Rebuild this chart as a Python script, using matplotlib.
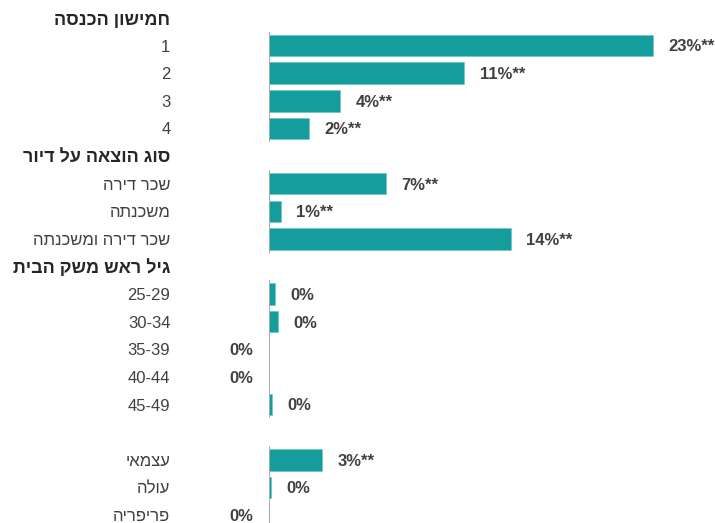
import matplotlib.pyplot as plt

plt.rcParams['font.family'] = ['Liberation Sans', 'DejaVu Sans']

headers = ['חמישון הכנסה', 'סוג הוצאה על דיור', 'גיל ראש משק הבית', '']
categories = [
    ['1', '2', '3', '4'],
    ['שכר דירה', 'משכנתה', 'שכר דירה ומשכנתה'],
    ['25-29', '30-34', '35-39', '40-44', '45-49'],
    ['עצמאי', 'עולה', 'פריפריה'],
]
values = [
    [23.0, 11.7, 4.25, 2.4],
    [7.0, 0.7, 14.5],
    [0.36, 0.54, -0.02, -0.02, 0.2],
    [3.2, 0.14, -0.05],
]
value_labels = [
    ['23%**', '11%**', '4%**', '2%**'],
    ['7%**', '1%**', '14%**'],
    ['0%', '0%', '0%', '0%', '0%'],
    ['3%**', '0%', '0%'],
]


def heb(s):
    # matplotlib has no bidi, so put hebrew in visual order
    if any('\u0590' <= c <= '\u05ff' for c in s):
        return s[::-1]
    return s


fig = plt.figure(figsize=(7.15, 5.23), dpi=100)
ax = fig.add_axes([269 / 715, 0, 446 / 715, 1])

teal = '#159c9c'
txt = '#404040'

ticks = []
ticklabels = []
bold_rows = []
row = 0
for g in range(len(headers)):
    ticks.append(row)
    ticklabels.append(heb(headers[g]))
    bold_rows.append(len(ticks) - 1)
    row += 1
    first = row
    for cat, v, lab in zip(categories[g], values[g], value_labels[g]):
        ax.barh(row, v, height=0.78, color=teal, edgecolor='#6cc4c4', linewidth=0.4)
        if v >= 0:
            ax.annotate(lab, (v, row + 0.05), xytext=(11, 0), textcoords='offset points',
                        ha='left', va='center', fontsize=12, fontweight='bold',
                        color=txt, annotation_clip=False)
        else:
            ax.annotate(lab, (0, row + 0.05), xytext=(-11, 0), textcoords='offset points',
                        ha='right', va='center', fontsize=12, fontweight='bold',
                        color=txt, annotation_clip=False)
        ticks.append(row)
        ticklabels.append(heb(cat))
        row += 1
    ax.vlines(0, first - 0.5, row - 0.5, color='#a6a6a6', linewidth=1.3, zorder=3)

ax.set_yticks(ticks)
ax.set_yticklabels(ticklabels, fontsize=12, color=txt)
for i in bold_rows:
    lbl = ax.get_yticklabels()[i]
    lbl.set_fontweight('bold')
    lbl.set_fontsize(13)
    lbl.set_color('#262626')
ax.tick_params(axis='y', length=0, pad=71)
ax.set_xticks([])

ax.set_xlim(0, 446 / 16.7)
ax.set_ylim(18.29, -0.652)
for s in ax.spines.values():
    s.set_visible(False)

plt.savefig('out.png', dpi=100)
